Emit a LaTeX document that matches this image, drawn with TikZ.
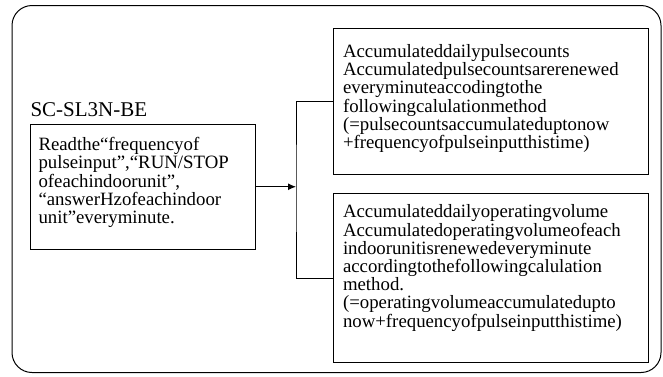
\documentclass[tikz,border=0pt]{standalone}
\usepackage{fontspec}
\setmainfont{Liberation Serif}
\usepackage{tikz}
\usetikzlibrary{arrows.meta,positioning}
\hyphenpenalty=10000
\exhyphenpenalty=10000

\begin{document}
\begin{tikzpicture}[x=1pt, y=-1pt, line width=1pt,
  txtbox/.style={draw, anchor=north west, align=left, inner ysep=0pt,
    font=\fontsize{18.8}{18.2}\selectfont},
  ]
\useasboundingbox (0,0) rectangle (663,376);

% outer frame
\draw[rounded corners=20pt] (12,5.5) rectangle (661,372.5);

\node[txtbox, inner xsep=8pt, text width=208.5pt, minimum height=125.5pt,
  text depth=85.3pt] (read) at (30,123.5)
  {Readthe“frequencyof\\pulseinput”,“RUN/STOP\\ofeachindoorunit”,\\“answerHzofeachindoor\\unit”everyminute.};
\node[anchor=base west, inner sep=0pt, font=\fontsize{21}{21}\selectfont]
  (model) at (30,116.7) {SC-SL3N-BE};

\node[txtbox, inner xsep=10pt, text width=295pt, minimum height=146pt,
  text depth=101pt] (pulse) at (332.5,28)
  {Accumulateddailypulsecounts\\Accumulatedpulsecountsarerenewed\\everyminuteaccodingtothe\\followingcalulationmethod\\(=pulsecountsaccumulateduptonow\\+frequencyofpulseinputthistime)};
\node[txtbox, inner xsep=10pt, text width=295pt, minimum height=169pt,
  text depth=133.4pt] (volume) at (332.5,193)
  {Accumulateddailyoperatingvolume\\Accumulatedoperatingvolumeofeach\\indoorunitisrenewedeveryminute\\accordingtothefollowingcalulation\\method.\\(=operatingvolumeaccumulatedupto\\now+frequencyofpulseinputthistime)};

\coordinate[right=40.5pt of read.east] (fork);
\draw[-{Latex[length=8pt,width=7pt]}] (read.east) -- (fork);
\draw (pulse.west) -| (fork) |- (volume.west);
\end{tikzpicture}
\end{document}
